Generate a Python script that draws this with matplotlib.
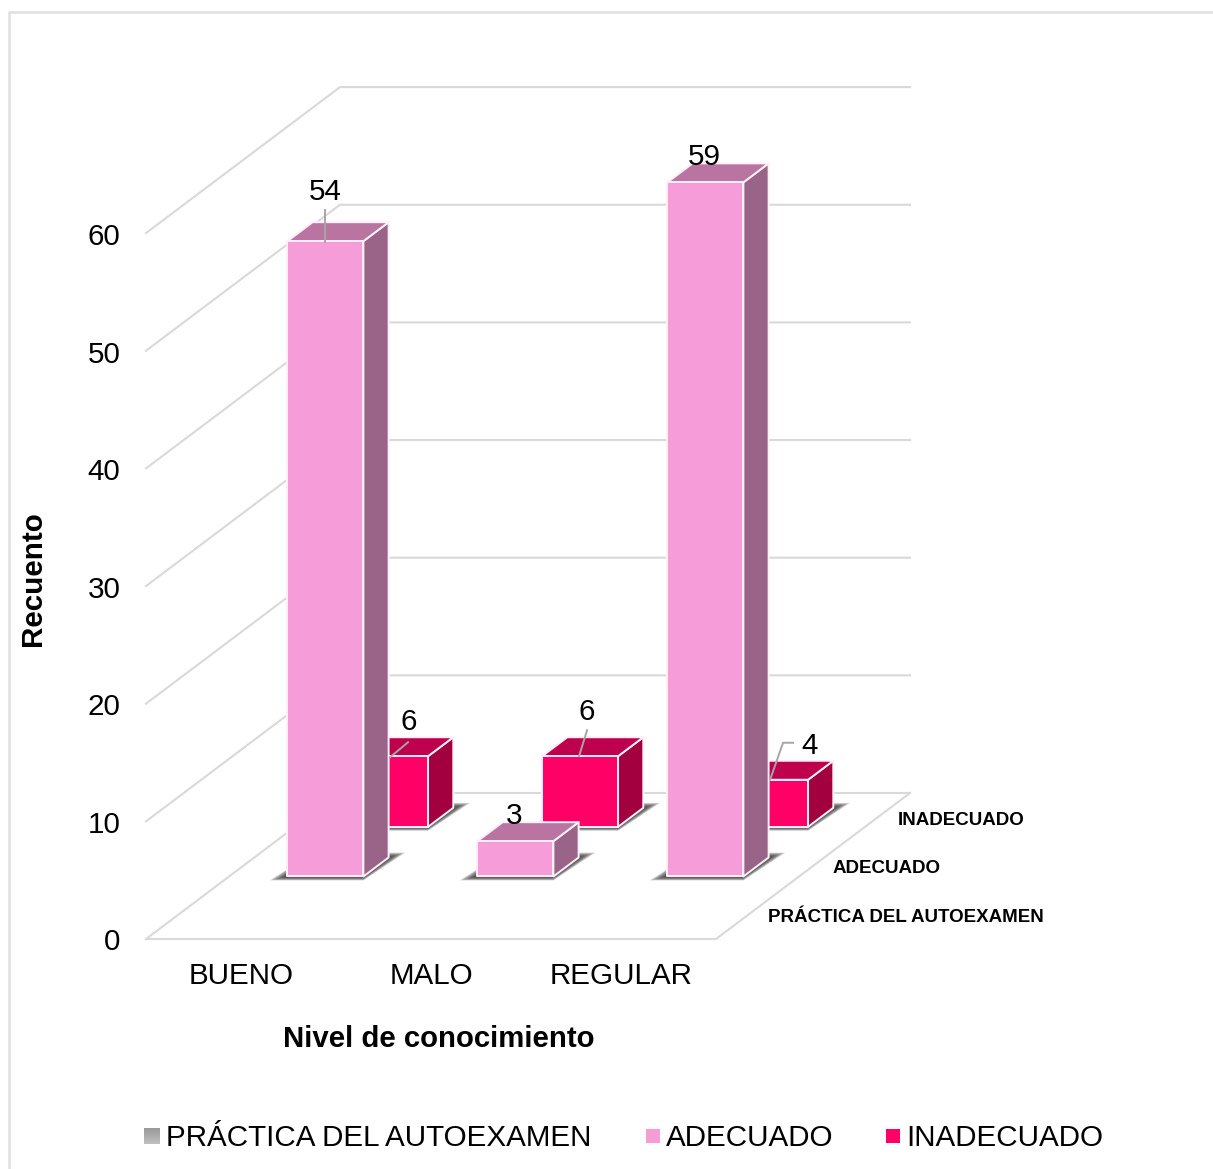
import numpy as np
import matplotlib
matplotlib.use('Agg')
import matplotlib.pyplot as plt
from matplotlib.patches import Polygon, Rectangle

plt.rcParams['font.family'] = ['Liberation Sans', 'DejaVu Sans']

# data
categories = ['BUENO', 'MALO', 'REGULAR']
series = ['PRÁCTICA DEL AUTOEXAMEN', 'ADECUADO', 'INADECUADO']
adecuado = [54, 3, 59]
inadecuado = [6, 6, 4]
y_ticks = [0, 10, 20, 30, 40, 50, 60]

# 3d box in pixels
ORIGIN = (146, 939)
CAT_W = 190.0
DEPTH = (64.67, -48.67)
UNIT = 11.765
BAR_W = 0.4
BAR_D = 0.39
TEXT_DY = 3

FS = 21.35
GRID = '#d9d9d9'
PINK = ('#f59cd9', '#ba74a2', '#9a6488')
RED = ('#ff0066', '#bf004c', '#a30040')


def project(x, z, v):
    # x in categories, z in series, v in counts
    return (ORIGIN[0] + x * CAT_W + z * DEPTH[0],
            ORIGIN[1] + z * DEPTH[1] - v * UNIT)


def bar_point(x, z, v):
    # front row sits one pixel lower in the reference
    px, py = project(x, z, v)
    return px, py + (1.0 if z < 2 else 0.0)


def draw_shadow(ax, x, z):
    x0, x1 = x - BAR_W / 2, x + BAR_W / 2
    z0, z1 = z - BAR_D / 2, z + BAR_D / 2
    fl = np.array(bar_point(x0, z0, 0))
    fr = np.array(bar_point(x1, z0, 0))
    br = np.array(bar_point(x1, z1, 0))
    bl = np.array(bar_point(x0, z1, 0))
    for t in np.linspace(1, 0.1, 14):
        pts = [fl + (-18 * t, 4 * t), fr + (0, 4 * t),
               br + (17 * t, -5 * t), bl + (0, -5 * t)]
        ax.add_patch(Polygon(pts, closed=True, fc='#303030', ec='none',
                             alpha=0.12, zorder=2))


def draw_bar(ax, x, z, v, cols, zo):
    x0, x1 = x - BAR_W / 2, x + BAR_W / 2
    z0, z1 = z - BAR_D / 2, z + BAR_D / 2
    front = [bar_point(x0, z0, 0), bar_point(x1, z0, 0), bar_point(x1, z0, v), bar_point(x0, z0, v)]
    top = [bar_point(x0, z0, v), bar_point(x1, z0, v), bar_point(x1, z1, v), bar_point(x0, z1, v)]
    side = [bar_point(x1, z0, 0), bar_point(x1, z1, 0), bar_point(x1, z1, v), bar_point(x1, z0, v)]
    for pts, c in ((side, cols[2]), (top, cols[1]), (front, cols[0])):
        ax.add_patch(Polygon(pts, closed=True, fc=c, ec='#fdf0f8', lw=1.4,
                             joinstyle='round', zorder=zo))


def main():
    fig = plt.figure(figsize=(12.13, 11.69), dpi=100)
    ax = fig.add_axes([0, 0, 1, 1])
    ax.set_xlim(0, 1213)
    ax.set_ylim(1169, 0)
    ax.axis('off')

    # outer frame
    ax.plot([9, 9, 1213], [1169, 12, 12], color='#e0e0e0', lw=1.8, zorder=1)

    # walls
    n_cat = len(categories)
    n_ser = len(series)
    for t in y_ticks:
        p = [project(0, 0, t), project(0, n_ser, t), project(n_cat, n_ser, t)]
        ax.plot([q[0] for q in p], [q[1] for q in p], color=GRID, lw=1.5, zorder=1)
        ax.text(120.5, p[0][1] + TEXT_DY + t / 60, str(t), ha='right', va='center', fontsize=FS, color='black')
    floor = [project(0, 0, 0), project(n_cat, 0, 0), project(n_cat, n_ser, 0)]
    ax.plot([q[0] for q in floor], [q[1] for q in floor], color=GRID, lw=1.5, zorder=1)

    # back row first, then front row
    for i, v in enumerate(inadecuado):
        draw_shadow(ax, i + 0.5, 2.5)
        draw_bar(ax, i + 0.5, 2.5, v, RED, 3 + i * 0.1)
    for i, v in enumerate(adecuado):
        draw_shadow(ax, i + 0.5, 1.5)
    for i, v in enumerate(adecuado):
        draw_bar(ax, i + 0.5, 1.5, v, PINK, 5 + i * 0.1)

    # data labels: text offset and leader from top of the front face
    ade_off = [(0, -49), (-1, -25), (-1, -25)]
    ina_off = [(19, -34), (7, -44), (39, -34)]
    for i, v in enumerate(adecuado):
        cx, cy = bar_point(i + 0.5, 1.5 - BAR_D / 2, v)
        ax.text(cx + ade_off[i][0], cy + ade_off[i][1], str(v), ha='center', va='center',
                fontsize=FS, color='black', zorder=9)
    for i, v in enumerate(inadecuado):
        cx, cy = bar_point(i + 0.5, 2.5 - BAR_D / 2, v)
        ax.text(cx + ina_off[i][0], cy + ina_off[i][1], str(v), ha='center', va='center',
                fontsize=FS, color='black', zorder=9)

    # leader lines
    cx, cy = bar_point(0.5, 1.5 - BAR_D / 2, adecuado[0])
    ax.plot([cx, cx], [cy + 1, cy - 31], color='#a6a6a6', lw=1.4, zorder=8)
    cx, cy = bar_point(0.5, 2.5 - BAR_D / 2, inadecuado[0])
    ax.plot([cx, cx + 18], [cy + 1, cy - 14], color='#a6a6a6', lw=1.4, zorder=8)
    cx, cy = bar_point(1.5, 2.5 - BAR_D / 2, inadecuado[1])
    ax.plot([cx - 1, cx + 7], [cy, cy - 26], color='#a6a6a6', lw=1.4, zorder=8)
    cx, cy = bar_point(2.5, 2.5 - BAR_D / 2, inadecuado[2])
    ax.plot([cx, cx + 13, cx + 23], [cy, cy - 37, cy - 37], color='#a6a6a6', lw=1.4, zorder=8)

    # axis texts
    for i, c in enumerate(categories):
        ax.text(project(i + 0.5, 0, 0)[0], 976, c, ha='center', va='center', fontsize=FS)
    for z, s in enumerate(series):
        px, py = project(n_cat, z + 0.5, 0)
        ax.text(px + 20, py + 3, s, ha='left', va='center', fontsize=13.5, fontweight='bold')
    ax.text(439, 1039, 'Nivel de conocimiento', ha='center', va='center', fontsize=21.2, fontweight='bold')
    ax.text(33, 579, 'Recuento', rotation=90, ha='center', va='center', fontsize=FS, fontweight='bold')

    # legend
    grad = np.linspace(0.6, 0.75, 16).reshape(-1, 1)
    ax.imshow(grad, cmap='gray', vmin=0, vmax=1, extent=(144, 160, 1144, 1128), aspect='auto', zorder=3)
    ax.add_patch(Rectangle((646, 1129), 14, 14, fc=PINK[0], ec='none'))
    ax.add_patch(Rectangle((886, 1129), 14, 14, fc=RED[0], ec='none'))
    ax.set_xlim(0, 1213)
    ax.set_ylim(1169, 0)
    for px, s in zip((166, 666, 906), series):
        ax.text(px, 1138, s, ha='left', va='center', fontsize=FS)

    fig.savefig('out.png', dpi=100)


if __name__ == '__main__':
    main()
